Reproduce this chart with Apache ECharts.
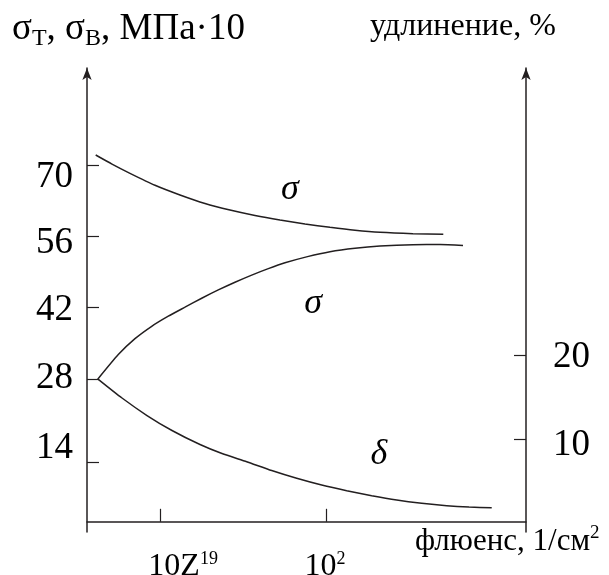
<!DOCTYPE html>
<html>
<head>
<meta charset="utf-8">
<script src="https://cdn.jsdelivr.net/npm/echarts@6/dist/echarts.min.js"></script>
<style>
html,body{margin:0;padding:0;background:#fff;}
#chart{width:609px;height:575px;}
</style>
</head>
<body>
<div id="chart"></div>
<script>
// ---- data (x: relative log-fluence position 0..100) ----
var sigmaUpperX = [1.98, 5.69, 9.79, 15.49, 21.18, 26.88, 32.57, 38.27, 43.96, 49.66, 55.35, 61.05, 66.74, 74.26, 81.16];
var sigmaUpperY = [71.95, 70.17, 68.36, 66.01, 64.11, 62.44, 61.16, 60.09, 59.20, 58.42, 57.77, 57.20, 56.79, 56.52, 56.40];

var sigmaLowerX = [2.44, 7.13, 10.93, 14.74, 18.52, 22.32, 26.13, 29.91, 33.71, 37.52, 41.30, 45.10, 50.23, 55.35, 61.05, 66.74, 74.26, 80.41, 85.65];
var sigmaLowerY = [27.96, 32.80, 35.92, 38.35, 40.33, 42.10, 43.86, 45.49, 47.00, 48.40, 49.67, 50.81, 52.02, 52.99, 53.67, 54.10, 54.36, 54.38, 54.22];

var deltaX = [2.57, 7.97, 13.67, 19.36, 25.74, 30.75, 36.38, 42.07, 47.77, 53.46, 59.16, 64.85, 70.55, 76.24, 81.94, 87.02, 92.19];
var deltaY = [17.16, 14.92, 12.82, 11.02, 9.34, 8.26, 7.28, 6.22, 5.29, 4.48, 3.80, 3.20, 2.68, 2.29, 2.00, 1.84, 1.76];

// tick marks and labels
var xTickValues = [16.7, 54.6];
var xLabelValues = [21.9, 54.2];
var xLabelTexts = ['{a|10Z}{s|19}', '{a|10}{s|2}'];

var leftTickValues = [11.7, 28, 42, 56, 70];
var leftLabelValues = [14.5, 28.2, 41.4, 54.7, 67.6];
var leftLabelTexts = ['14', '28', '42', '56', '70'];

var rightTickValues = [10, 20];
var rightLabelValues = [9.2, 19.8];
var rightLabelTexts = ['10', '20'];

// curve annotations [x, y]
var annUpperSigma = [46.2, 65.1];
var annLowerSigma = [51.5, 42.9];
var annDelta = [66.5, 8.1];

function pairs(xs, ys) { return xs.map(function (x, i) { return [x, ys[i]]; }); }
function lookup(vals, texts) {
  return function (v) {
    for (var i = 0; i < vals.length; i++) if (Math.abs(vals[i] - v) < 1e-6) return texts[i];
    return '';
  };
}

var INK = '#231f20';
var FONT = '"Liberation Serif", "DejaVu Serif", serif';

var chart = echarts.init(document.getElementById('chart'), null, { renderer: 'canvas' });
chart.setOption({
  backgroundColor: '#fff',
  animation: false,
  textStyle: { fontFamily: FONT, color: '#000' },
  title: [
    {
      left: 12, top: 7, padding: 0,
      text: '{g|σ}{sub|Т}{g|, σ}{sub|В}{g|, МПа·10}',
      textStyle: {
        fontWeight: 'normal',
        rich: {
          g: { fontFamily: FONT, fontSize: 37, lineHeight: 44, fontWeight: 'normal', color: '#000' },
          sub: { fontFamily: FONT, fontSize: 24, lineHeight: 28, fontWeight: 'normal', verticalAlign: 'bottom', color: '#000' }
        }
      }
    },
    {
      left: 370, top: 8, padding: 0,
      text: 'удлинение, %',
      textStyle: { fontFamily: FONT, fontSize: 32, lineHeight: 38, fontWeight: 'normal', color: '#000' }
    },
    {
      left: 415, top: 524, padding: 0,
      text: '{a|флюенс, 1/см}{s|2}',
      textStyle: {
        fontWeight: 'normal',
        rich: {
          a: { fontFamily: FONT, fontSize: 31, lineHeight: 36, fontWeight: 'normal', color: '#000' },
          s: { fontFamily: FONT, fontSize: 19, lineHeight: 20, fontWeight: 'normal', verticalAlign: 'top', color: '#000' }
        }
      }
    }
  ],
  grid: { left: 87, right: 83, top: 68, bottom: 43, containLabel: false, outerBoundsMode: 'none' },
  xAxis: {
    type: 'value', min: 0, max: 100,
    axisLine: { show: true, lineStyle: { color: INK, width: 1.5 } },
    axisTick: { show: true, inside: true, length: 13, customValues: xTickValues, lineStyle: { color: INK, width: 1.2 } },
    axisLabel: {
      show: true, customValues: xLabelValues, margin: 18,
      formatter: lookup(xLabelValues, xLabelTexts),
      rich: {
        a: { fontFamily: FONT, fontSize: 32, lineHeight: 34, color: '#000' },
        s: { fontFamily: FONT, fontSize: 18, lineHeight: 18, verticalAlign: 'top', color: '#000' }
      }
    },
    splitLine: { show: false }
  },
  yAxis: [
    {
      type: 'value', position: 'left', min: -2, max: 89.02,
      axisLine: { show: true, lineStyle: { color: INK, width: 1.5 }, symbol: ['none', 'arrow'], symbolSize: [7, 12] },
      axisTick: { show: true, inside: true, length: 12, customValues: leftTickValues, lineStyle: { color: INK, width: 1.2 } },
      axisLabel: {
        show: true, customValues: leftLabelValues, margin: 14,
        formatter: lookup(leftLabelValues, leftLabelTexts),
        fontFamily: FONT, fontSize: 37, color: '#000'
      },
      splitLine: { show: false }
    },
    {
      type: 'value', position: 'right', min: -1.15, max: 54.5,
      axisLine: { show: true, lineStyle: { color: INK, width: 1.5 }, symbol: ['none', 'arrow'], symbolSize: [7, 12] },
      axisTick: { show: true, inside: true, length: 12, customValues: rightTickValues, lineStyle: { color: INK, width: 1.2 } },
      axisLabel: {
        show: true, customValues: rightLabelValues, margin: 27,
        formatter: lookup(rightLabelValues, rightLabelTexts),
        fontFamily: FONT, fontSize: 37, color: '#000'
      },
      splitLine: { show: false }
    }
  ],
  series: [
    {
      type: 'line', yAxisIndex: 0, data: pairs(sigmaUpperX, sigmaUpperY),
      smooth: 0.2, symbol: 'none', lineStyle: { color: INK, width: 1.5 },
      markPoint: {
        symbol: 'circle', symbolSize: 0,
        label: { show: true, position: 'inside', formatter: 'σ', fontFamily: FONT, fontStyle: 'italic', fontSize: 36, color: '#000' },
        data: [{ coord: annUpperSigma }]
      }
    },
    {
      type: 'line', yAxisIndex: 0, data: pairs(sigmaLowerX, sigmaLowerY),
      smooth: 0.2, symbol: 'none', lineStyle: { color: INK, width: 1.5 },
      markPoint: {
        symbol: 'circle', symbolSize: 0,
        label: { show: true, position: 'inside', formatter: 'σ', fontFamily: FONT, fontStyle: 'italic', fontSize: 36, color: '#000' },
        data: [{ coord: annLowerSigma }]
      }
    },
    {
      type: 'line', yAxisIndex: 1, data: pairs(deltaX, deltaY),
      smooth: 0.2, symbol: 'none', lineStyle: { color: INK, width: 1.5 },
      markPoint: {
        symbol: 'circle', symbolSize: 0,
        label: { show: true, position: 'inside', formatter: 'δ', fontFamily: FONT, fontStyle: 'italic', fontSize: 36, color: '#000' },
        data: [{ coord: annDelta }]
      }
    }
  ]
});
</script>
</body>
</html>
